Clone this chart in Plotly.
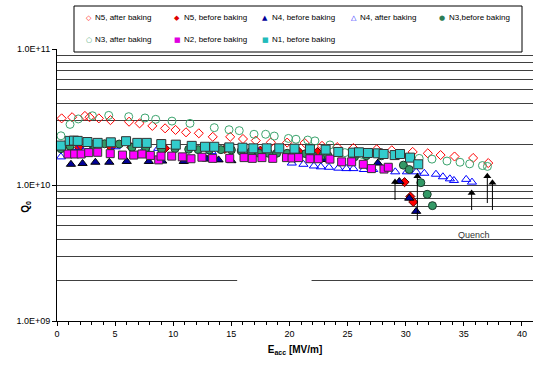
import plotly.graph_objects as go

# ---------------- data (Eacc in MV/m, Q0 in units of 1e10) ----------------
n5_after_E = [0.4, 1.3, 2.4, 2.8, 3.6, 4.6, 6.2, 7.1, 8.2, 9.3, 10.2, 11.1, 12.2, 13.4, 14.9,
              16.0, 17.1, 18.4, 19.8, 21.3, 22.8, 24.1, 25.5, 27.5, 28.8, 30.6, 31.9, 33.0,
              34.2, 35.8, 37.1]
n5_after_Q = [3.09, 3.15, 3.22, 3.15, 3.09, 3.00, 2.92, 2.84, 2.72, 2.61, 2.54, 2.44, 2.40, 2.26,
              2.26, 2.18, 2.12, 2.06, 2.05, 2.04, 1.94, 1.90, 1.87, 1.83, 1.80, 1.75, 1.71, 1.66,
              1.62, 1.58, 1.45]

n5_before_E = [1.9, 4.65, 6.4, 9.3, 14.45, 17.5, 20.8, 22.4, 29.9, 30.4, 30.65]
n5_before_Q = [1.88, 1.89, 1.89, 1.86, 1.84, 1.79, 1.76, 1.75, 1.05, 0.823, 0.75]

n4_before_E = [1.2, 2.2, 3.3, 4.5, 6.0, 7.9, 9.05, 10.9, 12.9, 13.9, 15.0, 23.0, 27.6, 29.45,
               30.3, 30.9]
n4_before_Q = [1.42, 1.44, 1.47, 1.47, 1.49, 1.49, 1.50, 1.49, 1.55, 1.53, 1.51, 1.54, 1.45,
               1.06, 0.80, 0.64]

n4_after_E = [0.34, 1.55, 2.55, 5.05, 7.57, 8.71, 13.3, 16.3, 17.3, 20.2, 21.2, 22.1, 22.7,
              23.4, 24.2, 24.9, 25.5, 26.4, 27.2, 29.1, 30.1, 30.9, 31.6, 32.6, 33.2, 33.8,
              34.15, 35.2, 35.7]
n4_after_Q = [1.61, 1.89, 1.91, 1.91, 1.86, 1.86, 1.76, 1.61, 1.76, 1.45, 1.42, 1.38, 1.36,
              1.35, 1.33, 1.32, 1.32, 1.30, 1.30, 1.25, 1.25, 1.25, 1.22, 1.20, 1.15, 1.11,
              1.08, 1.10, 1.05]

n3_before_E = [0.34, 1.12, 3.05, 4.1, 5.35, 6.45, 7.63, 9.0, 10.15, 11.33, 12.15, 13.1, 14.1,
               15.0, 15.85, 16.7, 17.4, 18.2, 18.9, 19.8, 20.6, 21.4, 22.0, 22.9, 23.3, 25.6,
               26.6, 27.9, 29.8, 30.3, 31.3, 31.85, 32.3]
n3_before_Q = [1.85, 1.93, 1.99, 2.01, 2.00, 1.89, 1.87, 1.83, 1.85, 1.83, 1.82, 1.81, 1.82,
               1.81, 1.78, 1.76, 1.71, 1.71, 1.71, 1.71, 1.68, 1.70, 1.65, 1.66, 1.65, 1.61,
               1.64, 1.64, 1.40, 1.30, 1.04, 0.854, 0.705]

n3_after_E = [0.34, 1.12, 1.83, 3.05, 4.45, 6.17, 7.57, 8.49, 9.89, 11.44, 13.53, 14.8, 15.68,
              16.95, 17.95, 18.69, 19.91, 20.56, 21.57, 22.19, 23.48, 24.77, 26.24, 31.16,
              32.26, 33.55, 34.67, 35.5, 36.6, 37.03]
n3_after_Q = [2.30, 2.79, 3.06, 3.23, 3.25, 3.18, 3.11, 3.04, 2.95, 2.84, 2.64, 2.55, 2.51,
              2.36, 2.36, 2.29, 2.20, 2.17, 2.14, 2.11, 1.97, 1.73, 1.68, 1.57, 1.55, 1.50,
              1.47, 1.43, 1.39, 1.37]

n2_before_E = [0.95, 1.52, 2.08, 2.73, 3.5, 4.58, 5.63, 6.6, 7.31, 8.03, 8.75, 8.95, 9.87,
               10.78, 11.53, 12.47, 13.39, 14.86, 16.09, 16.8, 17.63, 18.56, 19.74, 20.22,
               20.79, 21.76, 22.48, 23.48, 24.49, 25.35, 26.35, 27.05, 28.13, 28.5]
n2_before_Q = [1.69, 1.69, 1.69, 1.73, 1.74, 1.70, 1.66, 1.66, 1.69, 1.65, 1.53, 1.63, 1.63,
               1.61, 1.56, 1.60, 1.57, 1.57, 1.59, 1.57, 1.59, 1.57, 1.59, 1.58, 1.59, 1.56,
               1.56, 1.55, 1.48, 1.48, 1.42, 1.32, 1.31, 1.35]

n1_before_E = [0.34, 1.09, 1.46, 1.78, 2.62, 3.5, 4.63, 5.94, 6.91, 7.72, 8.97, 10.22, 11.59,
               12.73, 13.53, 14.82, 15.96, 16.89, 18.04, 19.12, 20.43, 21.76, 23.11, 24.2,
               25.46, 25.98, 26.75, 27.61, 28.1, 29.05, 29.51, 30.37, 31.08]
n1_before_Q = [1.95, 2.11, 2.12, 2.11, 2.07, 2.04, 2.06, 2.10, 2.04, 2.04, 2.00, 1.98, 1.94,
               1.91, 1.91, 1.89, 1.88, 1.86, 1.86, 1.86, 1.85, 1.83, 1.82, 1.75, 1.73, 1.74,
               1.72, 1.71, 1.69, 1.66, 1.69, 1.59, 1.42]

# quench arrows: field, Q at tail, Q at head (units 1e10)
quench_E = [29.08, 31.0, 35.67, 37.02, 37.46]
quench_tail_Q = [0.776, 0.553, 0.655, 0.737, 0.655]
quench_head_Q = [1.05, 1.16, 0.875, 1.16, 1.04]

y_tick_vals = [1e9, 1e10, 1e11]
y_tick_text = ["1.0E+09", "1.0E+10", "1.0E+11"]
x_tick_vals = [0, 5, 10, 15, 20, 25, 30, 35, 40]

SCALE = 1e10


def q(vals):
    return [v * SCALE for v in vals]


FONT = "Liberation Sans, Arial, sans-serif"
fig = go.Figure()

# name, E, Q, marker style, legend glyph
series = [
    ("N5, after baking", n5_after_E, n5_after_Q,
     dict(symbol="diamond-open", size=7, color="#FF0000", line=dict(width=1, color="#FF0000")),
     "◇", "#FF0000"),
    ("N5, before baking", n5_before_E, n5_before_Q,
     dict(symbol="diamond", size=7, color="#FF0000", line=dict(width=1, color="#600000")),
     "◆", "#E00000"),
    ("N4, before baking", n4_before_E, n4_before_Q,
     dict(symbol="triangle-up", size=8, color="#000099", line=dict(width=1, color="#000000")),
     "▲", "#000099"),
    ("N4, after baking", n4_after_E, n4_after_Q,
     dict(symbol="triangle-up-open", size=8, color="#0000FF", line=dict(width=1, color="#0000FF")),
     "△", "#0000FF"),
    ("N3,before baking", n3_before_E, n3_before_Q,
     dict(symbol="circle", size=8, color="#339966", line=dict(width=1, color="#1a3a2a")),
     "●", "#2E7D55"),
    ("N3, after baking", n3_after_E, n3_after_Q,
     dict(symbol="circle-open", size=8, color="#3CA46E", line=dict(width=1, color="#3CA46E")),
     "○", "#3CA46E"),
    ("N2, before baking", n2_before_E, n2_before_Q,
     dict(symbol="square", size=8, color="#FF00FF", line=dict(width=1, color="#333333")),
     "■", "#E000E0"),
    ("N1, before baking", n1_before_E, n1_before_Q,
     dict(symbol="square", size=9, color="#33CCCC", line=dict(width=1, color="#333333")),
     "■", "#22BBBB"),
]

for name, xs, ys, mk, _g, _c in series:
    fig.add_trace(go.Scatter(x=xs, y=q(ys), mode="markers", name=name, marker=mk,
                             cliponaxis=False, showlegend=False))

# quench arrows: shafts + heads
shaft_x, shaft_y = [], []
for e, qt, qh in zip(quench_E, quench_tail_Q, quench_head_Q):
    shaft_x += [e, e, None]
    shaft_y += [qt * SCALE, qh * SCALE, None]
fig.add_trace(go.Scatter(x=shaft_x, y=shaft_y, mode="lines", showlegend=False,
                         line=dict(color="#000000", width=1), hoverinfo="skip"))
fig.add_trace(go.Scatter(x=quench_E, y=q(quench_head_Q), mode="markers", showlegend=False,
                         marker=dict(symbol="triangle-up", size=7, color="#000000",
                                     line=dict(width=0)), hoverinfo="skip"))

fig.add_annotation(x=35.9, y=9.632, xref="x", yref="y", text="Quench",
                   showarrow=False, font=dict(size=9, color="#333333", family=FONT))

# axis title Q0 (placed like the reference, slightly below the axis middle)
fig.add_annotation(x=-0.082, y=0.42, xref="paper", yref="paper", text="<b>Q<sub>0</sub></b>",
                   textangle=-90, showarrow=False, font=dict(size=10, color="#000000", family=FONT))

# white gap in the 2E+09 gridline
fig.add_shape(type="rect", xref="x", yref="paper", x0=15.5, x1=21.9, y0=0.13, y1=0.17,
              fillcolor="white", line=dict(width=0), layer="above")

# ---- legend box (5 columns x 2 rows, like the reference) ----
W, H, L, T, B = 533, 366, 57, 49, 45
PW, PH = W - L, H - T - B


def px_x(p):
    return (p - L) / PW


def px_y(p):
    return (H - B - p) / PH


fig.add_shape(type="rect", xref="paper", yref="paper", x0=px_x(74), x1=px_x(522),
              y0=px_y(52), y1=px_y(6), fillcolor="white",
              line=dict(width=1, color="#000000"), layer="above")
col_x = [88.7, 177.0, 265.3, 353.6, 442.0]
row_y = [18.0, 40.0]
for i, (name, _xs, _ys, _mk, glyph, gcol) in enumerate(series):
    cx, cy = col_x[i % 5], row_y[i // 5]
    fig.add_annotation(x=px_x(cx), y=px_y(cy), xref="paper", yref="paper", text=glyph,
                       showarrow=False, xanchor="center", yanchor="middle",
                       font=dict(size=7, color=gcol, family="DejaVu Sans"))
    fig.add_annotation(x=px_x(cx + 4.5), y=px_y(cy), xref="paper", yref="paper", text=name,
                       showarrow=False, xanchor="left", yanchor="middle",
                       font=dict(size=8, color="#000000", family=FONT))

minor_y = [m * 10 ** d for d in (9, 10) for m in range(2, 10)]

fig.update_layout(
    width=W, height=H,
    margin=dict(l=L, r=0, t=T, b=B),
    paper_bgcolor="white", plot_bgcolor="white",
    font=dict(family=FONT, size=9, color="#000000"),
    showlegend=False,
    xaxis=dict(range=[0, 40.95], tickvals=x_tick_vals, ticks="outside", ticklen=4,
               tickcolor="#000000", showline=True, linecolor="#000000", linewidth=1,
               showgrid=False, zeroline=False, tickfont=dict(size=9),
               minor=dict(dtick=1, ticks="outside", ticklen=3, tickcolor="#000000"),
               title=dict(text="<b>E<sub>acc</sub> [MV/m]</b>", font=dict(size=10), standoff=8)),
    yaxis=dict(type="log", range=[9, 11], tickvals=y_tick_vals, ticktext=y_tick_text,
               ticks="outside", ticklen=4, tickcolor="#000000", showline=True,
               linecolor="#000000", linewidth=1, showgrid=True, gridcolor="#404040",
               gridwidth=1, zeroline=False, tickfont=dict(size=9),
               minor=dict(tickvals=minor_y, showgrid=True, gridcolor="#404040", gridwidth=1,
                          ticks="")),
)

fig.write_html("out.html")
